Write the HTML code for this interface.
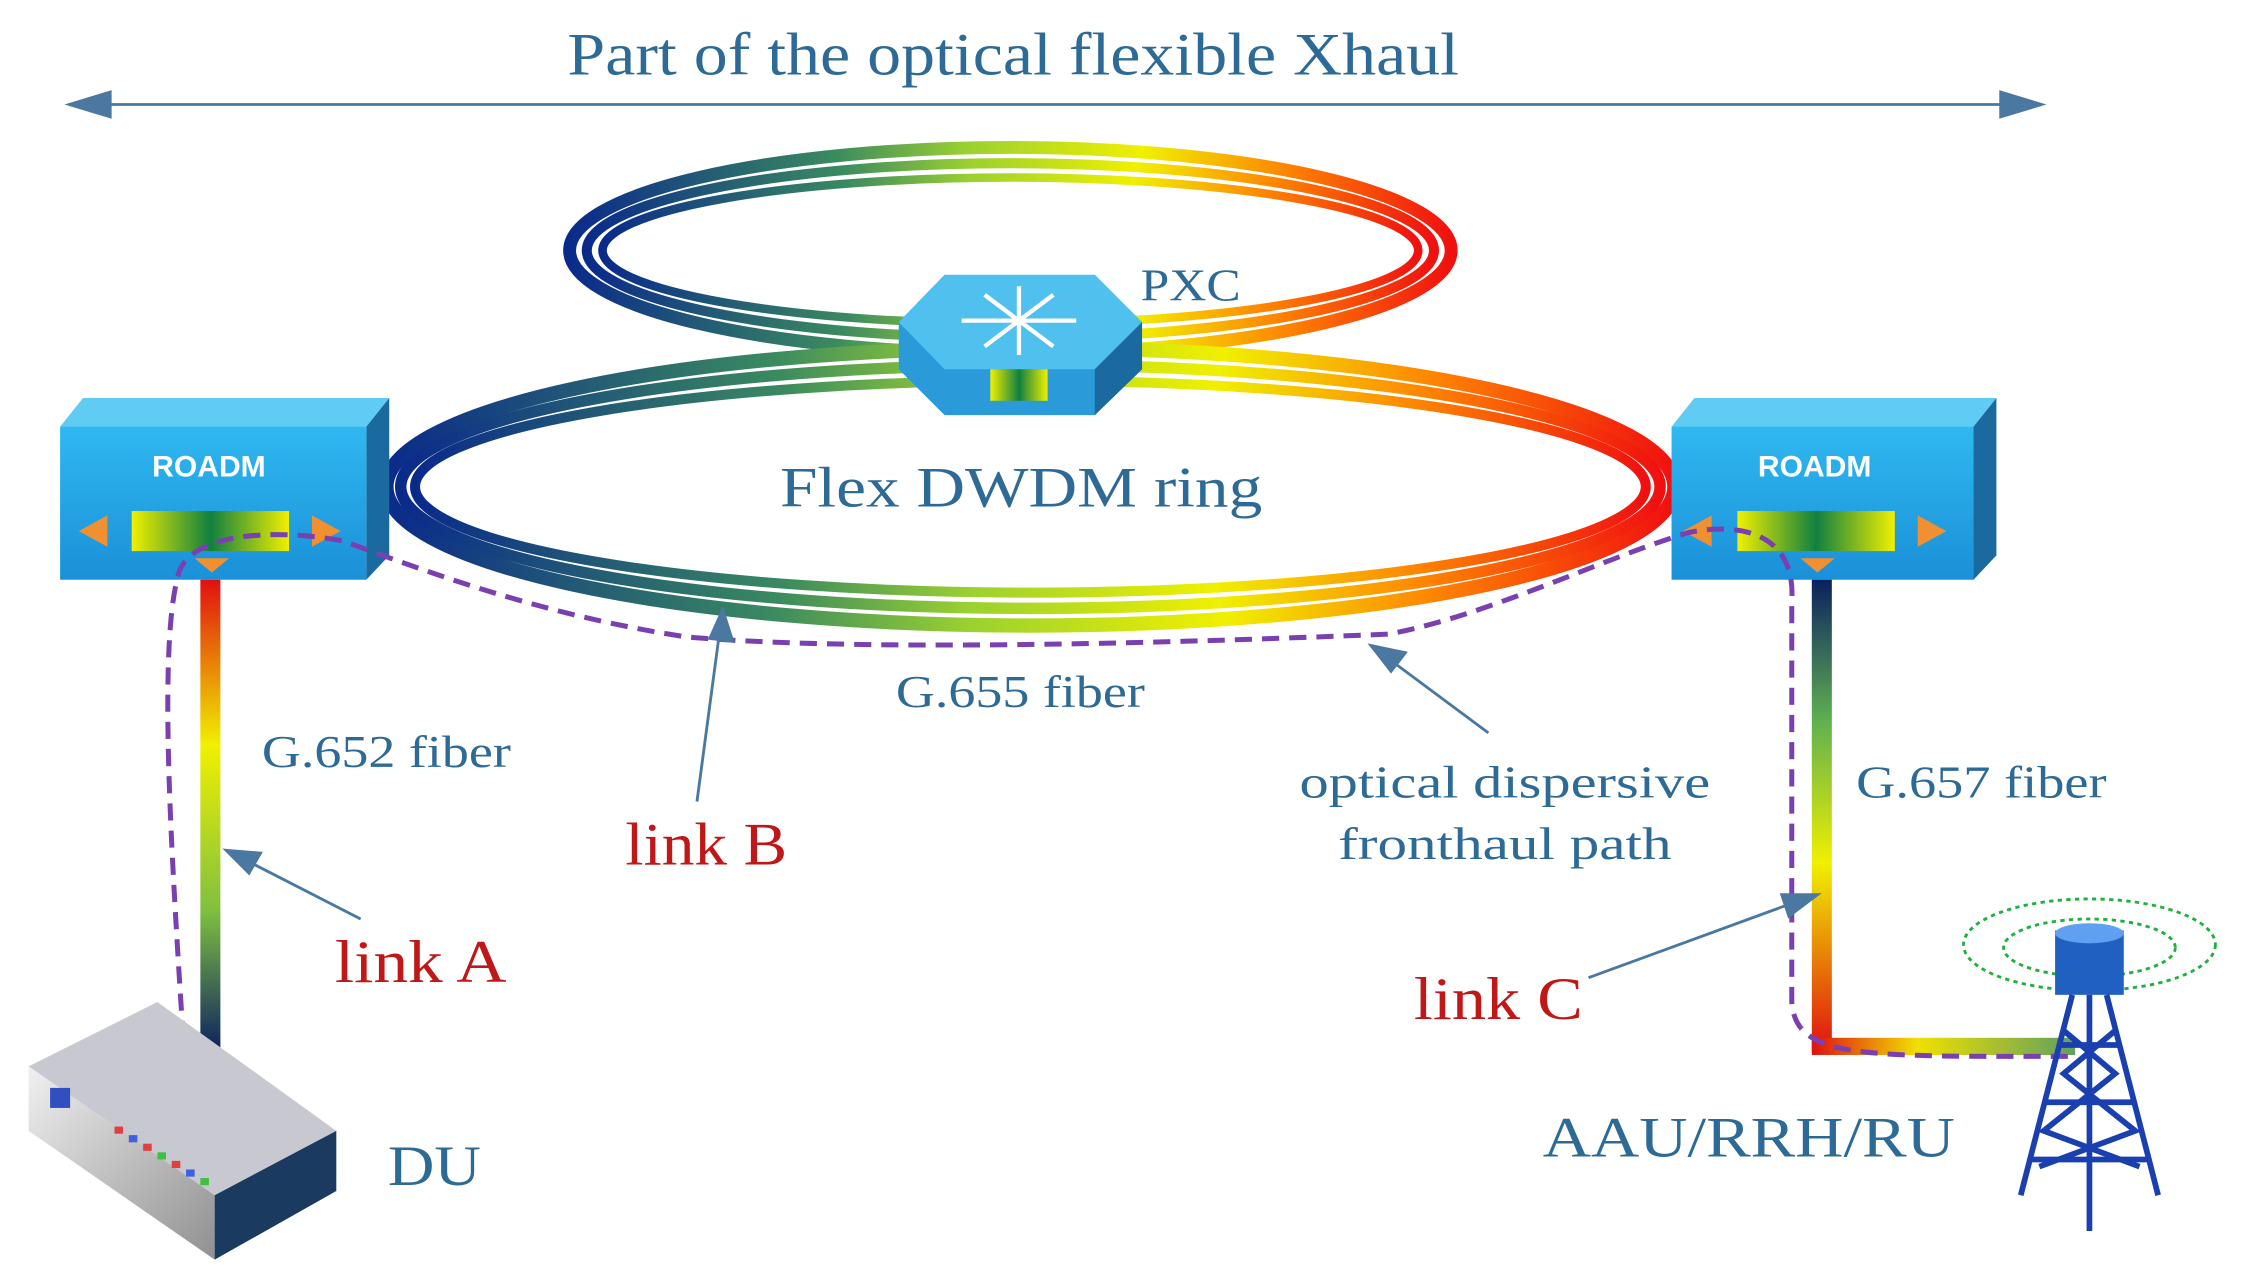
<!DOCTYPE html>
<html><head><meta charset="utf-8"><style>
html,body{margin:0;padding:0;background:#fff;}
svg{display:block;}
</style></head><body>
<svg width="2244" height="1284" viewBox="0 0 1568 897" preserveAspectRatio="none" xmlns="http://www.w3.org/2000/svg">
<defs>
<linearGradient id="rg" x1="0" x2="1" y1="0" y2="0">
<stop offset="0" stop-color="#0a2a8a"/><stop offset="0.3" stop-color="#3a8a60"/><stop offset="0.45" stop-color="#9ad030"/><stop offset="0.65" stop-color="#f0f000"/><stop offset="0.82" stop-color="#ff8000"/><stop offset="1" stop-color="#f01010"/>
</linearGradient>
<linearGradient id="vl" x1="0" x2="0" y1="0" y2="1">
<stop offset="0" stop-color="#e01010"/><stop offset="0.35" stop-color="#f0f000"/><stop offset="0.7" stop-color="#80c040"/><stop offset="1" stop-color="#0a2060"/>
</linearGradient>
<linearGradient id="vr" x1="0" x2="0" y1="0" y2="1">
<stop offset="0" stop-color="#0a2060"/><stop offset="0.3" stop-color="#60b050"/><stop offset="0.6" stop-color="#f0f000"/><stop offset="1" stop-color="#e01010"/>
</linearGradient>
<linearGradient id="hr" x1="0" x2="1" y1="0" y2="0">
<stop offset="0" stop-color="#e01010"/><stop offset="0.4" stop-color="#f0e000"/><stop offset="1" stop-color="#60a060"/>
</linearGradient>
<linearGradient id="box" x1="0" x2="0" y1="0" y2="1"><stop offset="0" stop-color="#30b8f0"/><stop offset="1" stop-color="#1a90d8"/></linearGradient>
<linearGradient id="inner" x1="0" x2="1"><stop offset="0" stop-color="#f0f000"/><stop offset="0.5" stop-color="#108040"/><stop offset="1" stop-color="#f0f000"/></linearGradient>
<linearGradient id="du" x1="0" x2="1" y1="0" y2="1"><stop offset="0" stop-color="#f0f0f0"/><stop offset="1" stop-color="#909090"/></linearGradient>
</defs>

<text x="708" y="52" font-family="Liberation Serif,serif" font-size="42" fill="#2e6a96" text-anchor="middle" textLength="623" lengthAdjust="spacingAndGlyphs">Part of the optical flexible Xhaul</text>
<line x1="60" y1="73" x2="1415" y2="73" stroke="#4a78a0" stroke-width="2"/>
<polygon points="45,73 78,63 78,83" fill="#4a78a0"/>
<polygon points="1430,73 1397,63 1397,83" fill="#4a78a0"/>

<!-- upper ring -->
<g fill="none" stroke="url(#rg)">
<ellipse cx="706" cy="175" rx="308" ry="72" stroke-width="9"/>
<ellipse cx="706" cy="175" rx="296" ry="61" stroke-width="7"/>
<ellipse cx="706" cy="175" rx="285" ry="51" stroke-width="6"/>
</g>
<!-- lower ring -->
<g fill="none" stroke="url(#rg)">
<ellipse cx="720" cy="340" rx="450" ry="97" stroke-width="10"/>
<ellipse cx="720" cy="340" rx="440" ry="85" stroke-width="8"/>
<ellipse cx="720" cy="340" rx="430" ry="74" stroke-width="7"/>
</g>

<!-- PXC -->
<polygon points="628,225 660,192 765,192 798,225 798,258 765,290 660,290 628,258" fill="#2a9ad8"/>
<polygon points="628,225 660,192 765,192 798,225 765,258 660,258" fill="#50c0ee"/>
<polygon points="765,258 798,225 798,258 765,290" fill="#1a6aa0"/>
<g stroke="#fff" stroke-width="3"><line x1="672" y1="224" x2="752" y2="224"/><line x1="712" y1="200" x2="712" y2="248"/><line x1="688" y1="206" x2="736" y2="242"/><line x1="688" y1="242" x2="736" y2="206"/></g>
<rect x="692" y="258" width="40" height="22" fill="url(#inner)"/>
<g font-family="Liberation Serif,serif" fill="#2e6a96">
<text x="797" y="210" font-size="32" textLength="70" lengthAdjust="spacingAndGlyphs">PXC</text>
<text x="545" y="354" font-size="40" textLength="337" lengthAdjust="spacingAndGlyphs">Flex DWDM ring</text>
</g>

<!-- ROADMs -->
<g>
<polygon points="42,298 58,278 272,278 256,298" fill="#60ccf4"/>
<polygon points="256,298 272,278 272,388 256,405" fill="#1a6aa0"/>
<rect x="42" y="298" width="214" height="107" fill="url(#box)"/>
<text x="146" y="333" font-family="Liberation Sans,sans-serif" font-weight="bold" font-size="21" fill="#fff" text-anchor="middle">ROADM</text>
<rect x="92" y="357" width="110" height="28" fill="url(#inner)"/>
<polygon points="55,371 75,360 75,382" fill="#f09030"/><polygon points="238,371 218,360 218,382" fill="#f09030"/>
<polygon points="148,400 136,390 160,390" fill="#f09030"/>
</g>
<g>
<polygon points="1168,298 1184,278 1395,278 1379,298" fill="#60ccf4"/>
<polygon points="1379,298 1395,278 1395,388 1379,405" fill="#1a6aa0"/>
<rect x="1168" y="298" width="211" height="107" fill="url(#box)"/>
<text x="1268" y="333" font-family="Liberation Sans,sans-serif" font-weight="bold" font-size="21" fill="#fff" text-anchor="middle">ROADM</text>
<rect x="1214" y="357" width="110" height="28" fill="url(#inner)"/>
<polygon points="1176,371 1196,360 1196,382" fill="#f09030"/><polygon points="1360,371 1340,360 1340,382" fill="#f09030"/>
<polygon points="1270,400 1258,390 1282,390" fill="#f09030"/>
</g>

<!-- vertical fibers -->
<rect x="140" y="405" width="14" height="330" fill="url(#vl)"/>
<rect x="1266" y="405" width="14" height="330" fill="url(#vr)"/>
<rect x="1266" y="725" width="184" height="12" fill="url(#hr)"/>

<!-- dashed paths -->
<g fill="none" stroke="#7a40b0" stroke-width="3.5" stroke-dasharray="12,7">
<path d="M128,725 C120,600 110,450 125,400 C135,370 200,370 240,378 C300,400 380,430 480,445 C600,455 800,450 970,443 C1040,430 1120,390 1180,372 C1220,364 1255,375 1252,420 L1252,700 C1255,740 1300,738 1450,738"/>
</g>

<!-- labels -->
<g font-family="Liberation Serif,serif" fill="#2e6a96" font-size="32">
<text x="183" y="536" textLength="174" lengthAdjust="spacingAndGlyphs">G.652 fiber</text>
<text x="626" y="494" textLength="174" lengthAdjust="spacingAndGlyphs">G.655 fiber</text>
<text x="1297" y="557" textLength="175" lengthAdjust="spacingAndGlyphs">G.657 fiber</text>
<text x="908" y="557" textLength="287" lengthAdjust="spacingAndGlyphs">optical dispersive</text>
<text x="935" y="600" textLength="233" lengthAdjust="spacingAndGlyphs">fronthaul path</text>
<text x="1078" y="808" font-size="40" textLength="288" lengthAdjust="spacingAndGlyphs">AAU/RRH/RU</text>
<text x="271" y="828" font-size="40" textLength="65" lengthAdjust="spacingAndGlyphs">DU</text>
</g>
<g font-family="Liberation Serif,serif" fill="#c01818" font-size="42">
<text x="234" y="686" textLength="120" lengthAdjust="spacingAndGlyphs">link A</text>
<text x="437" y="604" textLength="113" lengthAdjust="spacingAndGlyphs">link B</text>
<text x="988" y="712" textLength="118" lengthAdjust="spacingAndGlyphs">link C</text>
</g>
<!-- pointer arrows -->
<g stroke="#4a78a0" stroke-width="2" fill="#4a78a0">
<line x1="252" y1="642" x2="170" y2="600"/><polygon points="158,594 182,596 174,610"/>
<line x1="487" y1="560" x2="503" y2="440"/><polygon points="505,426 512,448 496,446"/>
<line x1="1040" y1="512" x2="970" y2="460"/><polygon points="958,451 982,456 972,469"/>
<line x1="1110" y1="683" x2="1255" y2="630"/><polygon points="1270,625 1250,640 1245,625"/>
</g>

<!-- DU -->
<polygon points="20,745 110,700 235,790 150,835" fill="#c8c8d0"/>
<polygon points="20,745 150,835 150,880 20,790" fill="url(#du)"/>
<polygon points="150,835 235,790 235,832 150,880" fill="#1a3a60"/>
<rect x="35" y="760" width="14" height="14" fill="#3050c0"/>
<g fill="#e04040"><rect x="80" y="787" width="6" height="5"/><rect x="90" y="793" width="6" height="5" fill="#4060e0"/><rect x="100" y="799" width="6" height="5"/><rect x="110" y="805" width="6" height="5" fill="#40c040"/><rect x="120" y="811" width="6" height="5"/><rect x="130" y="817" width="6" height="5" fill="#4060e0"/><rect x="140" y="823" width="6" height="5" fill="#40c040"/></g>

<!-- tower -->
<g fill="none" stroke="#20b040" stroke-width="2" stroke-dasharray="3,3">
<ellipse cx="1460" cy="660" rx="88" ry="32"/><ellipse cx="1460" cy="662" rx="60" ry="20"/>
</g>
<rect x="1436" y="650" width="48" height="45" fill="#2060c0"/>
<ellipse cx="1460" cy="652" rx="24" ry="7" fill="#60a0f0"/>
<g stroke="#1a40b0" stroke-width="4" fill="none">
<path d="M1448,695 L1412,835 M1472,695 L1508,835 M1460,695 L1460,860"/>
<path d="M1442,720 L1478,750 L1428,790 L1495,815 M1478,720 L1442,750 L1492,790 L1425,815"/>
<line x1="1440" y1="730" x2="1480" y2="730"/><line x1="1430" y1="770" x2="1490" y2="770"/><line x1="1420" y1="810" x2="1500" y2="810"/>
</g>
</svg>
</body></html>
